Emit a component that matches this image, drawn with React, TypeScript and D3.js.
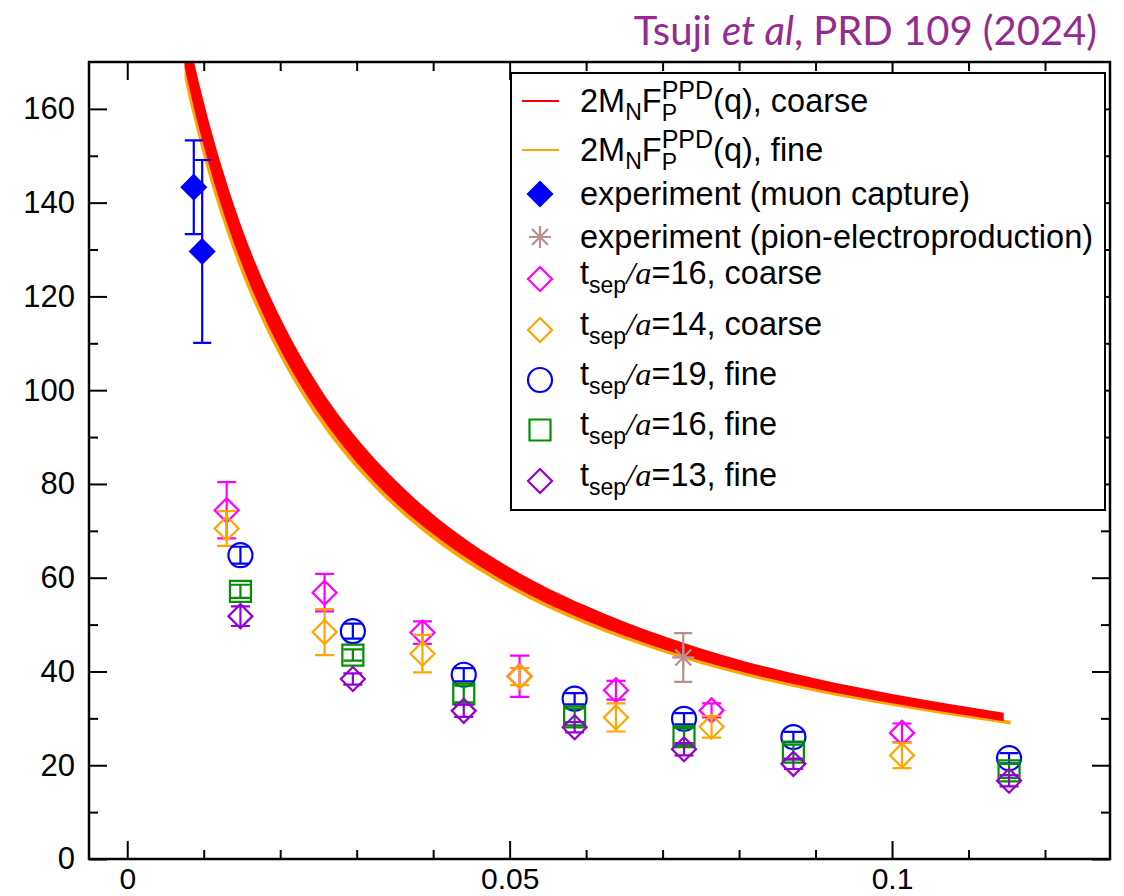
import * as d3 from 'd3';
import { useEffect, useRef } from 'react';

const W = 1124;
const H = 896;
const plot = { left: 89, top: 62, right: 1110, bottom: 859 };

// error bands of 2M_N F_P^PPD(q)
const coarseQ = [0.0075, 0.008, 0.009, 0.01, 0.0125, 0.015, 0.0175, 0.02, 0.025, 0.03, 0.035, 0.04, 0.05, 0.06, 0.07, 0.08, 0.09, 0.1, 0.1146];
const coarseLo = [169.0, 165.3, 158.4, 152.1, 138.3, 126.8, 117.1, 108.7, 95.2, 84.6, 76.1, 69.3, 58.6, 50.8, 44.8, 40.1, 36.3, 33.2, 29.4];
const coarseHi = [179.4, 175.5, 168.2, 161.5, 146.9, 134.6, 124.3, 115.5, 101.0, 89.8, 80.9, 73.5, 62.2, 54.0, 47.6, 42.5, 38.5, 35.2, 31.2];
const fineQ = [0.0075, 0.008, 0.009, 0.01, 0.0125, 0.015, 0.0175, 0.02, 0.025, 0.03, 0.035, 0.04, 0.05, 0.06, 0.07, 0.08, 0.09, 0.1, 0.1155];
const fineLo = [166.4, 162.7, 156.0, 149.7, 136.2, 124.8, 115.3, 107.1, 93.7, 83.3, 75.0, 68.2, 57.7, 50.0, 44.1, 39.4, 35.7, 32.7, 28.7];
const fineHi = [170.7, 167.0, 160.0, 153.7, 139.7, 128.1, 118.3, 109.9, 96.1, 85.5, 76.9, 70.0, 59.2, 51.4, 45.3, 40.5, 36.7, 33.5, 29.5];

// experiments
const muonQ = [0.0087, 0.0098];
const muonVal = [143.3, 129.6];
const muonErr = [10.0, 19.5];
const pionQ = [0.0727];
const pionVal = [43.0];
const pionErr = [5.2];

// lattice, coarse
const coarseLatQ = [0.013, 0.0258, 0.0386, 0.0513, 0.0639, 0.0764, 0.1013];
const t16cVal = [74.4, 56.8, 48.3, 39.0, 36.0, 31.7, 26.9];
const t16cErr = [6.0, 4.0, 2.4, 4.4, 2.0, 1.5, 2.0];
const t14cVal = [70.5, 48.4, 43.8, 38.9, 30.2, 28.2, 22.1];
const t14cErr = [3.7, 4.9, 4.0, 1.8, 3.0, 2.3, 2.7];

// lattice, fine
const fineLatQ = [0.0148, 0.0295, 0.044, 0.0585, 0.0728, 0.0871, 0.1153];
const t19fVal = [64.8, 48.6, 39.3, 34.2, 29.9, 26.0, 21.5];
const t19fErr = [1.8, 1.6, 1.4, 1.2, 1.2, 1.1, 1.1];
const t16fVal = [57.1, 43.5, 35.2, 30.3, 26.1, 22.8, 18.8];
const t16fErr = [1.4, 1.2, 1.8, 1.8, 1.8, 1.6, 1.5];
const t13fVal = [51.8, 38.4, 31.6, 28.1, 23.4, 20.3, 16.7];
const t13fErr = [2.1, 1.2, 1.3, 1.1, 1.3, 1.1, 1.2];

const xMajor = [0, 0.05, 0.1];
const xMinor = [0.01, 0.02, 0.03, 0.04, 0.06, 0.07, 0.08, 0.09, 0.11, 0.12];
const yMajor = [0, 20, 40, 60, 80, 100, 120, 140, 160];
const yMinor = [10, 30, 50, 70, 90, 110, 130, 150];

const FONT = "'Liberation Sans', Arial, Helvetica, sans-serif";

const App = () => {
  const svgRef = useRef(null);

  useEffect(() => {
    const svg = d3.select(svgRef.current);
    svg.selectAll('*').remove();

    const x = d3.scaleLinear().domain([-0.005, 0.1285]).range([plot.left, plot.right]);
    const y = d3.scaleLinear().domain([0, 170]).range([plot.bottom, plot.top]);

    svg.append('defs').append('clipPath').attr('id', 'clip')
      .append('rect')
      .attr('x', plot.left).attr('y', plot.top)
      .attr('width', plot.right - plot.left).attr('height', plot.bottom - plot.top);

    // title
    const title = svg.append('text')
      .attr('x', 1097).attr('y', 45)
      .attr('text-anchor', 'end')
      .attr('fill', '#952b8f')
      .style('font-family', "Lato, 'Open Sans', sans-serif")
      .style('font-size', '40px');
    title.append('tspan').text('Tsuji ');
    title.append('tspan').style('font-style', 'italic').text('et al');
    title.append('tspan').text(', PRD 109 (2024)');

    // bands
    const bands = svg.append('g').attr('clip-path', 'url(#clip)');
    const area = d3.area().curve(d3.curveMonotoneX);
    bands.append('path')
      .attr('d', area.x((d, i) => x(fineQ[i])).y0((d, i) => y(fineLo[i])).y1((d, i) => y(fineHi[i]))(fineQ))
      .attr('fill', '#ffa500');
    bands.append('path')
      .attr('d', area.x((d, i) => x(coarseQ[i])).y0((d, i) => y(coarseLo[i])).y1((d, i) => y(coarseHi[i]))(coarseQ))
      .attr('fill', '#ff0000');

    // axes: inward ticks on all four sides
    const axisStyle = (g) => {
      g.select('.domain').remove();
      g.selectAll('line').attr('stroke', '#000').attr('stroke-width', 2);
      g.selectAll('text').style('font-family', FONT).style('font-size', '31px').attr('fill', '#000');
    };
    svg.append('g').attr('transform', `translate(0,${plot.bottom})`)
      .call(d3.axisBottom(x).tickValues(xMajor).tickSize(-18).tickPadding(9).tickFormat(d3.format('')))
      .call(axisStyle)
      .selectAll('text').style('font-size', '30px');
    svg.append('g').attr('transform', `translate(0,${plot.bottom})`)
      .call(d3.axisBottom(x).tickValues(xMinor).tickSize(-9).tickFormat(() => ''))
      .call(axisStyle);
    svg.append('g').attr('transform', `translate(0,${plot.top})`)
      .call(d3.axisTop(x).tickValues(xMajor).tickSize(-18).tickFormat(() => ''))
      .call(axisStyle);
    svg.append('g').attr('transform', `translate(0,${plot.top})`)
      .call(d3.axisTop(x).tickValues(xMinor).tickSize(-9).tickFormat(() => ''))
      .call(axisStyle);
    svg.append('g').attr('transform', `translate(${plot.left},0)`)
      .call(d3.axisLeft(y).tickValues(yMajor).tickSize(-18).tickPadding(14))
      .call(axisStyle);
    svg.append('g').attr('transform', `translate(${plot.left},0)`)
      .call(d3.axisLeft(y).tickValues(yMinor).tickSize(-9).tickFormat(() => ''))
      .call(axisStyle);
    svg.append('g').attr('transform', `translate(${plot.right},0)`)
      .call(d3.axisRight(y).tickValues(yMajor).tickSize(-18).tickFormat(() => ''))
      .call(axisStyle);
    svg.append('g').attr('transform', `translate(${plot.right},0)`)
      .call(d3.axisRight(y).tickValues(yMinor).tickSize(-9).tickFormat(() => ''))
      .call(axisStyle);

    svg.append('rect')
      .attr('x', plot.left).attr('y', plot.top)
      .attr('width', plot.right - plot.left).attr('height', plot.bottom - plot.top)
      .attr('fill', 'none').attr('stroke', '#000').attr('stroke-width', 2.5);

    // symbols
    const drawSymbol = (g, shape, cx, cy, color, filled) => {
      const s = {
        diamond: `M${cx},${cy - 12}L${cx + 12},${cy}L${cx},${cy + 12}L${cx - 12},${cy}Z`,
        square: `M${cx - 10.5},${cy - 10.5}h21v21h-21Z`,
        star: `M${cx - 11},${cy}h22M${cx},${cy - 11}v22M${cx - 8},${cy - 8}l16,16M${cx - 8},${cy + 8}l16,-16`,
      };
      if (shape === 'circle') {
        g.append('circle').attr('cx', cx).attr('cy', cy).attr('r', 12)
          .attr('fill', 'none').attr('stroke', color).attr('stroke-width', 2.2);
      } else {
        g.append('path').attr('d', s[shape])
          .attr('fill', filled ? color : 'none')
          .attr('stroke', color).attr('stroke-width', 2.2);
      }
    };

    const drawSeries = (qs, vals, errs, shape, color, filled, cap) => {
      const g = svg.append('g');
      qs.forEach((q, i) => {
        const cx = x(q);
        const lo = y(vals[i] - errs[i]);
        const hi = y(vals[i] + errs[i]);
        g.append('path')
          .attr('d', `M${cx},${lo}V${hi}M${cx - cap},${lo}h${2 * cap}M${cx - cap},${hi}h${2 * cap}`)
          .attr('stroke', color).attr('stroke-width', 2.2).attr('fill', 'none');
        drawSymbol(g, shape, cx, y(vals[i]), color, filled);
      });
    };

    drawSeries(muonQ, muonVal, muonErr, 'diamond', '#0000ff', true, 9);
    drawSeries(pionQ, pionVal, pionErr, 'star', '#bc8f8f', false, 9);
    drawSeries(coarseLatQ, t16cVal, t16cErr, 'diamond', '#ff00ff', false, 9.5);
    drawSeries(coarseLatQ, t14cVal, t14cErr, 'diamond', '#ffa500', false, 9.5);
    drawSeries(fineLatQ, t19fVal, t19fErr, 'circle', '#0000ff', false, 9.5);
    drawSeries(fineLatQ, t16fVal, t16fErr, 'square', '#009000', false, 9.5);
    drawSeries(fineLatQ, t13fVal, t13fErr, 'diamond', '#9400d3', false, 9.5);

    // legend
    const lg = svg.append('g');
    lg.append('rect')
      .attr('x', 511).attr('y', 73).attr('width', 594).attr('height', 437)
      .attr('fill', '#fff').attr('stroke', '#000').attr('stroke-width', 2);

    const tx = 580;
    const fs = 32.5;
    const sub = 23;
    const mkText = (yb) => lg.append('text').attr('x', tx).attr('y', yb)
      .style('font-family', FONT).style('font-size', `${fs}px`).attr('fill', '#000');

    const formRow = (yb, label, color) => {
      lg.append('line').attr('x1', 522).attr('x2', 559).attr('y1', yb - 11).attr('y2', yb - 11)
        .attr('stroke', color).attr('stroke-width', 2);
      const t = mkText(yb);
      t.append('tspan').text('2M');
      t.append('tspan').attr('dy', 8).style('font-size', `${sub}px`).text('N');
      t.append('tspan').attr('dy', -8).text('F');
      t.append('tspan').attr('dy', 9).style('font-size', `${sub}px`).text('P');
      t.append('tspan').attr('dx', -15.3).attr('dy', -22).style('font-size', '25px').text('PPD');
      t.append('tspan').attr('dy', 13).text(`(q), ${label}`);
    };
    formRow(112, 'coarse', '#ff0000');
    formRow(161, 'fine', '#ffa500');

    drawSymbol(lg, 'diamond', 540, 194, '#0000ff', true);
    mkText(205).text('experiment (muon capture)');
    drawSymbol(lg, 'star', 540, 237, '#bc8f8f', false);
    mkText(248).text('experiment (pion-electroproduction)');

    const latRows = [
      { yc: 279, shape: 'diamond', color: '#ff00ff', n: '16', label: 'coarse' },
      { yc: 330, shape: 'diamond', color: '#ffa500', n: '14', label: 'coarse' },
      { yc: 380, shape: 'circle', color: '#0000ff', n: '19', label: 'fine' },
      { yc: 430, shape: 'square', color: '#009000', n: '16', label: 'fine' },
      { yc: 481, shape: 'diamond', color: '#9400d3', n: '13', label: 'fine' },
    ];
    latRows.forEach((r) => {
      drawSymbol(lg, r.shape, 540, r.yc, r.color, false);
      const t = mkText(r.yc + 5);
      t.append('tspan').text('t');
      t.append('tspan').attr('dy', 9).style('font-size', `${sub}px`).text('sep');
      t.append('tspan').attr('dy', -9)
        .style('font-family', "'Liberation Serif', 'Times New Roman', serif")
        .style('font-style', 'italic').text('/a');
      t.append('tspan').text(`=${r.n}, ${r.label}`);
    });
  }, []);

  return <svg ref={svgRef} width={W} height={H} style={{ display: 'block', position: 'absolute', left: 0, top: 0, background: '#fff' }} />;
};

export default App;
